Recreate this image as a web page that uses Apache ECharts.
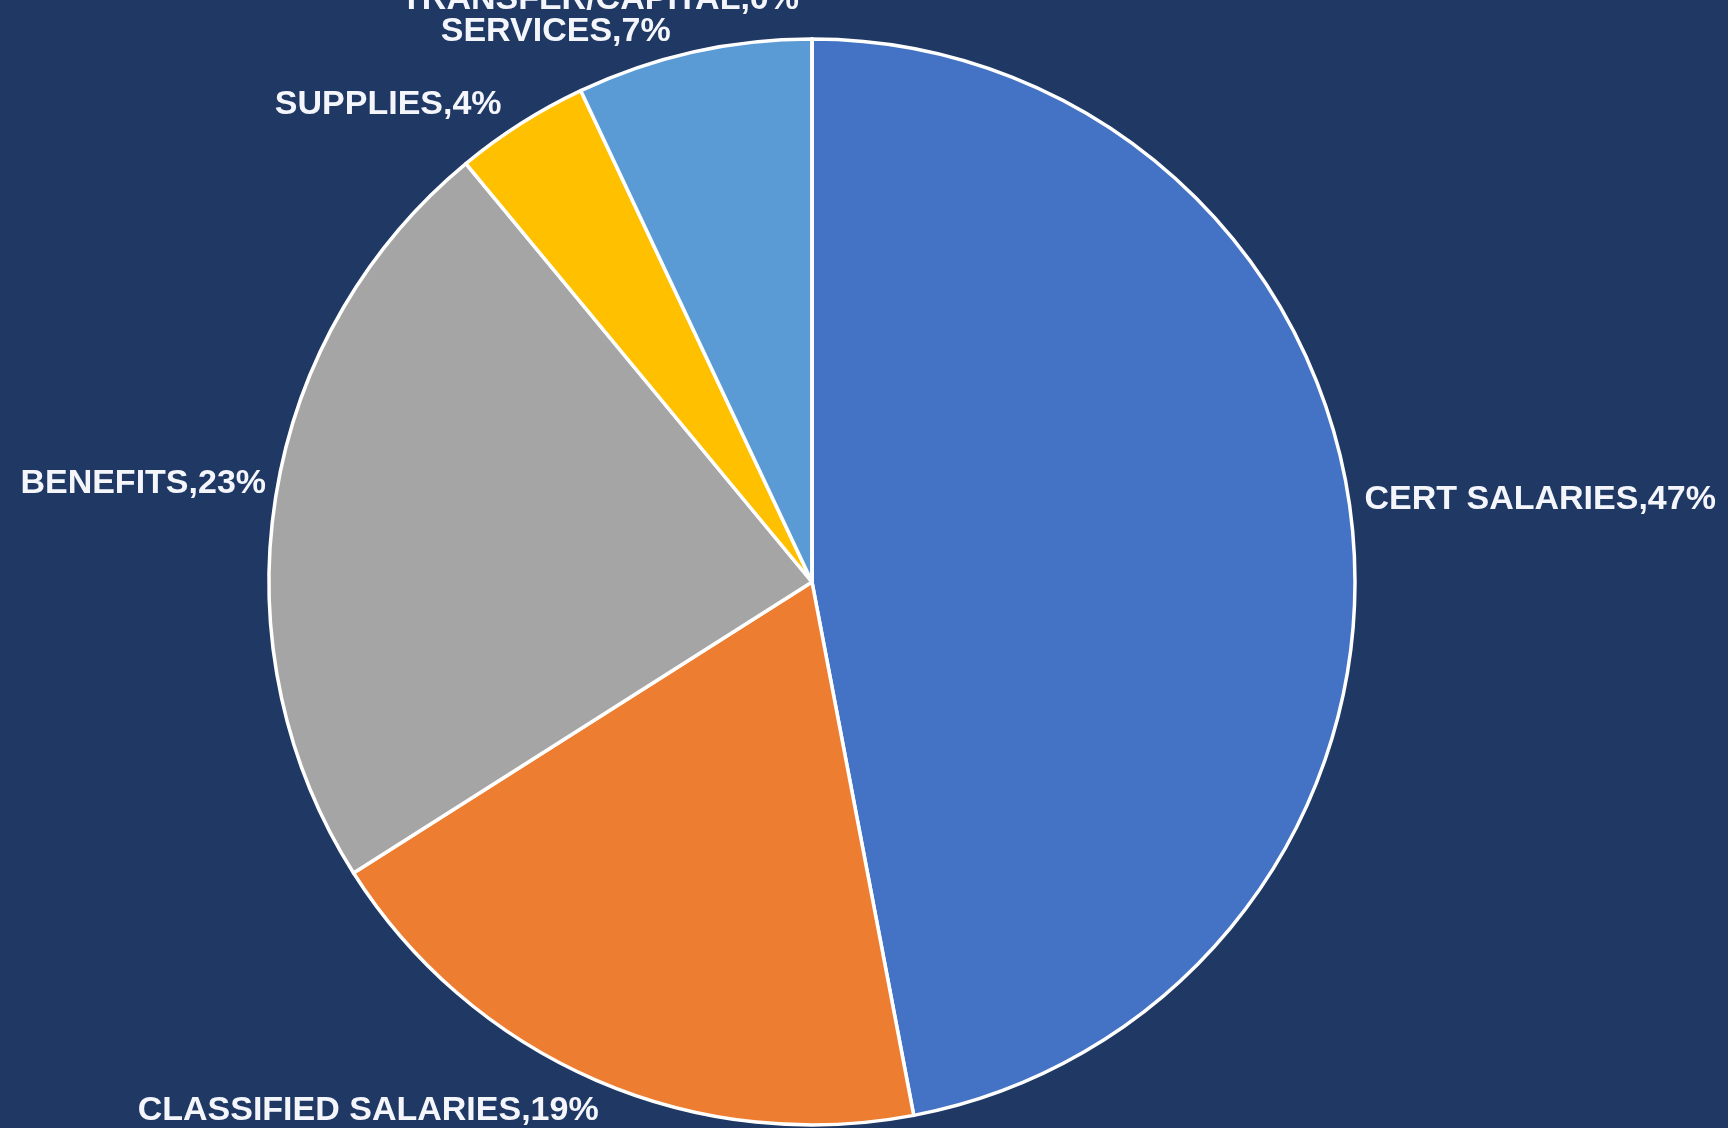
<!DOCTYPE html>
<html>
<head>
<meta charset="utf-8">
<title>Expenditures by Category</title>
<script src="https://cdn.jsdelivr.net/npm/echarts@6/dist/echarts.min.js"></script>
<style>
  html, body { margin: 0; padding: 0; background: #1f3864; }
  #chart { width: 1728px; height: 1128px; }
</style>
</head>
<body>
<div id="chart"></div>
<script>
// Spending categories, listed clockwise from 12 o'clock
const categories = ['CERT SALARIES', 'CLASSIFIED SALARIES', 'BENEFITS', 'SUPPLIES', 'SERVICES', 'TRANSFER/CAPITAL'];
// Share of total spending, in percent
const shares = [47, 19, 23, 4, 7, 0];
const sliceColors = ['#4472c4', '#ed7d31', '#a5a5a5', '#ffc000', '#5b9bd5', '#70ad47'];

// Small per-label nudges so the callouts sit like a spreadsheet "best fit" layout
const labelNudge = [[-20, -29], [18, 6], [22, -9], [0, 4], [-12, 6], [-8, -12]];

const chart = echarts.init(document.getElementById('chart'), null, { renderer: 'canvas' });

chart.setOption({
  backgroundColor: '#1f3864',
  animation: false,
  series: [{
    type: 'pie',
    center: [812, 582],
    radius: 543,
    startAngle: 90,
    clockwise: true,
    avoidLabelOverlap: false,
    percentPrecision: 0,
    data: categories.map((name, i) => ({
      name: name,
      value: shares[i],
      itemStyle: { color: sliceColors[i] }
    })),
    itemStyle: { borderColor: '#ffffff', borderWidth: 3.5 },
    label: {
      show: true,
      position: 'outside',
      formatter: (p) => p.name + ',' + p.value + '%',
      color: '#f4f6fb',
      fontFamily: "'Liberation Sans', Arial, sans-serif",
      fontWeight: 'bold',
      fontSize: 34,
      distanceToLabelLine: 5
    },
    labelLine: { show: false, length: 27, length2: 0 },
    labelLayout: (p) => ({ dx: labelNudge[p.dataIndex][0], dy: labelNudge[p.dataIndex][1] }),
    emphasis: { disabled: true }
  }]
});
</script>
</body>
</html>
